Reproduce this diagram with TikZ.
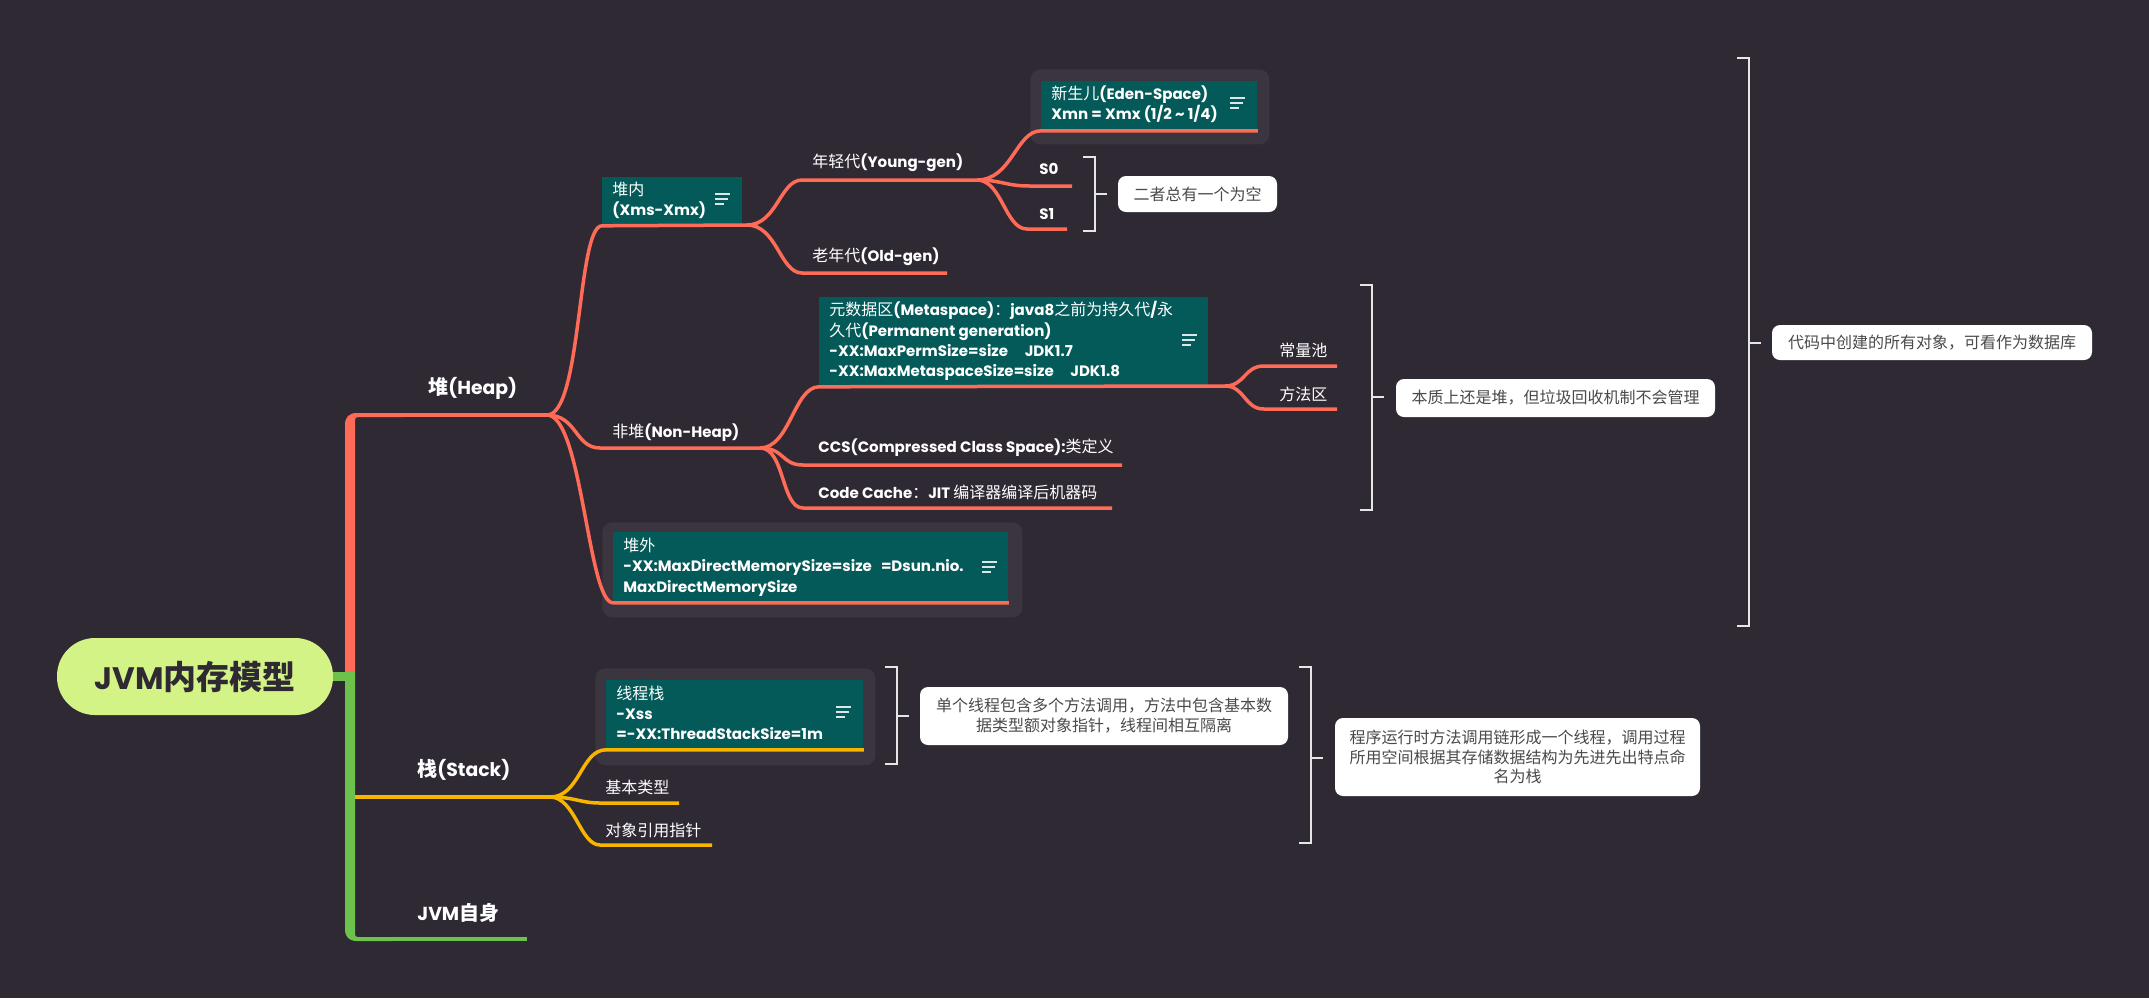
\documentclass[tikz,border=0pt]{standalone}
\usepackage{fontspec}
\setmainfont{Poppins}[Scale=0.94]
\newfontfamily\cjk{Noto Sans CJK SC}
\newcommand\zh[1]{{\cjk\mdseries #1}}
\newcommand\zhb[1]{{\cjk\bfseries #1}}
\usetikzlibrary{calc}
\definecolor{bgc}{HTML}{2F2934}
\definecolor{mmteal}{HTML}{035A59}
\definecolor{coral}{HTML}{FF6B57}
\definecolor{goldc}{HTML}{F7B500}
\definecolor{mmgreen}{HTML}{6CC24A}
\definecolor{rootc}{HTML}{D3F386}
\definecolor{panelc}{HTML}{3B3540}
\definecolor{calltext}{HTML}{4A4A4A}
\definecolor{brkc}{HTML}{E6E6E6}
\definecolor{iconc}{HTML}{D8E8E8}
\newcommand\menuicon[2]{\draw[iconc, line width=1pt] (#1,#2-5) -- ++(15,0) (#1,#2) -- ++(13,0) (#1,#2+5) -- ++(9,0);}
\newcommand\brkt[4]{\draw[brk] (#1-12,#2) -- (#1,#2) -- (#1,#3) -- (#1-12,#3); \draw[brk] (#1,#4) -- (#1+12,#4);}
\begin{document}
\begin{tikzpicture}[x=0.5pt,y=-0.5pt,
  root/.style={fill=rootc, rounded corners=19pt, minimum width=138pt, minimum height=38.5pt, inner sep=0pt, text=bgc, font=\fontsize{16.5}{18}\selectfont\bfseries},
  mainlbl/.style={anchor=west, inner sep=0pt, text=white, font=\fontsize{10}{12}\selectfont\bfseries},
  lbl/.style={anchor=west, inner sep=0pt, text=white, font=\fontsize{8}{10}\selectfont\bfseries},
  tb/.style={anchor=north west, fill=mmteal, inner sep=0pt},
  tt/.style={anchor=west, inner sep=0pt, text=white, align=left, font=\fontsize{8}{10.15}\selectfont\bfseries},
  pnl/.style={anchor=north west, fill=panelc, rounded corners=5pt, inner sep=0pt},
  call/.style={fill=white, rounded corners=4pt, text=calltext, inner sep=0pt, align=center, font=\fontsize{8}{10}\selectfont\cjk},
  brk/.style={draw=brkc, line width=1pt},
  rl/.style={draw=coral, line width=1.75pt},
  ol/.style={draw=goldc, line width=1.75pt},
  gl/.style={draw=mmgreen, line width=1.75pt}
]
\useasboundingbox (0,0) rectangle (2149,998);
\fill[bgc] (0,0) rectangle (2149,998);

% trunk
\fill[coral] (345,672) -- (345,425) .. controls (345,417) and (349,413) .. (357,413) -- (403,413) -- (403,417) -- (358,417) .. controls (356,417) and (355,418) .. (355,420) -- (355,672) -- cycle;
\fill[mmgreen] (345,672) -- (345,929) .. controls (345,937) and (349,941) .. (357,941) -- (392,941) -- (392,937) -- (358,937) .. controls (356,937) and (355,936) .. (355,934) -- (355,672) -- cycle;

\node[root] (root) at (195,676.5) {JVM\zhb{内存模型}};
\coordinate (trunkJ) at (350,676.5);
\draw[mmgreen, line width=4.5pt] (root.east) -- (trunkJ);

\node[mainlbl] (heapL) at (428,388) {\zhb{堆}(Heap)};
\node[mainlbl] (stackL) at (417,770) {\zhb{栈}(Stack)};
\node[mainlbl] (selfL) at (417,913) {JVM\zhb{自身}};

\coordinate (hA) at (400,415); \coordinate (fH) at (547,415);
\draw[rl] (hA) -- (fH);
\coordinate (sA) at (355,797); \coordinate (fS) at (550,797);
\draw[ol] (sA) -- (fS);
\coordinate (jA) at (390,939); \coordinate (jB) at (527,939);
\draw[gl] (jA) -- (jB);

% panels
\node[pnl, minimum width=119.5pt, minimum height=37.5pt] (edenP) at (1030,69) {};
\node[pnl, minimum width=210pt, minimum height=47.5pt] (extP) at (602,522) {};
\node[pnl, minimum width=140pt, minimum height=48.5pt] (tsP) at (595,668) {};

% boxes
\node[tb, minimum width=70pt, minimum height=24pt] (inner) at (602,177) {};
\node[tt] (innerT) at (612,200) {\zh{堆内}\\(Xms-Xmx)};
\menuicon{715}{199}

\node[tb, minimum width=108pt, minimum height=24.5pt] (eden) at (1041,81) {};
\node[tt] (edenT) at (1051,104) {\zh{新生儿}(Eden-Space)\\Xmn = Xmx (1/2 \textasciitilde{} 1/4)};
\menuicon{1230}{103}

\node[tb, minimum width=194.5pt, minimum height=44.5pt] (meta) at (819,297) {};
\node[tt] (metaT) at (829,341) {\zh{元数据区}(Metaspace)\zh{：}java8\zh{之前为持久代}/\zh{永}\\\zh{久代}(Permanent generation)\\-XX:MaxPermSize=size\hspace{1.1em}JDK1.7\\-XX:MaxMetaspaceSize=size\hspace{1.1em}JDK1.8};
\menuicon{1182}{340}

\node[tb, minimum width=197.5pt, minimum height=35pt] (ext) at (613,532) {};
\node[tt] (extT) at (623,567) {\zh{堆外}\\-XX:MaxDirectMemorySize=size\hspace{0.6em}=Dsun.nio.\\MaxDirectMemorySize};
\menuicon{982}{567}

\node[tb, minimum width=128.5pt, minimum height=34.5pt] (ts) at (606,680) {};
\node[tt] (tsT) at (616,713) {\zh{线程栈}\\-Xss\\=-XX:ThreadStackSize=1m};
\menuicon{836}{712}

% labels
\node[lbl] (young) at (812,163) {\zh{年轻代}(Young-gen)};
\node[lbl] (old) at (812,257) {\zh{老年代}(Old-gen)};
\node[lbl] (s0) at (1039,169) {S0};
\node[lbl] (s1) at (1039,214) {S1};
\node[lbl] (nonheap) at (612,433) {\zh{非堆}(Non-Heap)};
\node[lbl] (cpool) at (1279,350) {\zh{常量池}};
\node[lbl] (marea) at (1279,394) {\zh{方法区}};
\node[lbl] (ccs) at (818,448) {CCS(Compressed Class Space):\zh{类定义}};
\node[lbl] (ccache) at (818,492) {Code Cache\zh{：}JIT \zh{编译器编译后机器码}};
\node[lbl] (basic) at (605,787) {\zh{基本类型}};
\node[lbl] (oref) at (605,830) {\zh{对象引用指针}};

% heap connectors
\coordinate (fI) at (747,225);
\draw[rl] (fH) .. controls +(35,0) and +(-25,0) .. (inner.south west) -- (fI);
\coordinate (yA) at (802,180); \coordinate (yB) at (977,180);
\draw[rl] (fI) .. controls +(30,0) and +(-22,0) .. (yA) -- (yB);
\coordinate (oA) at (802,273); \coordinate (oB) at (947,273);
\draw[rl] (fI) .. controls +(30,0) and +(-22,0) .. (oA) -- (oB);
\draw[rl] (yB) .. controls +(35,0) and +(-25,0) .. (eden.south west) -- (eden.south east);
\coordinate (s0A) at (1030,186); \coordinate (s0B) at (1072,186);
\draw[rl] (yB) .. controls +(25,0) and +(-25,0) .. (s0A) -- (s0B);
\coordinate (s1A) at (1027,229); \coordinate (s1B) at (1067,229);
\draw[rl] (yB) .. controls +(25,0) and +(-22,0) .. (s1A) -- (s1B);
\coordinate (nA) at (600,448); \coordinate (fN) at (760,448);
\draw[rl] (fH) .. controls +(30,0) and +(-25,0) .. (nA) -- (fN);
\coordinate (fM) at (1225,386);
\draw[rl] (fN) .. controls +(30,0) and +(-25,0) .. (meta.south west) -- (fM);
\coordinate (cpA) at (1264,366); \coordinate (cpB) at (1337,366);
\draw[rl] (fM) .. controls +(20,0) and +(-20,0) .. (cpA) -- (cpB);
\coordinate (maA) at (1264,409); \coordinate (maB) at (1337,409);
\draw[rl] (fM) .. controls +(20,0) and +(-20,0) .. (maA) -- (maB);
\coordinate (ccA) at (803,465); \coordinate (ccB) at (1122,465);
\draw[rl] (fN) .. controls +(25,0) and +(-22,0) .. (ccA) -- (ccB);
\coordinate (cdA) at (803,508); \coordinate (cdB) at (1112,508);
\draw[rl] (fN) .. controls +(25,0) and +(-22,0) .. (cdA) -- (cdB);
\draw[rl] (fH) .. controls +(35,0) and +(-25,0) .. (ext.south west) -- (ext.south east);

% stack connectors
\draw[ol] (fS) .. controls +(30,0) and +(-25,0) .. (ts.south west) -- (ts.south east);
\coordinate (bA) at (600,803); \coordinate (bB) at (679,803);
\draw[ol] (fS) .. controls +(25,0) and +(-20,0) .. (bA) -- (bB);
\coordinate (rA) at (600,845); \coordinate (rB) at (712,845);
\draw[ol] (fS) .. controls +(25,0) and +(-20,0) .. (rA) -- (rB);

% brackets
\brkt{1095}{157}{231}{194}
\brkt{1372}{285}{510}{397}
\brkt{1749}{58}{626}{343}
\brkt{897}{667}{764}{716}
\brkt{1311}{667}{843}{758}

% callouts
\node[call, minimum width=79.5pt, minimum height=18pt] (c1) at (1197.5,194) {二者总有一个为空};
\node[call, minimum width=159.5pt, minimum height=19pt] (c2) at (1555.5,398) {本质上还是堆，但垃圾回收机制不会管理};
\node[call, minimum width=160pt, minimum height=17.5pt] (c3) at (1932,342.5) {代码中创建的所有对象，可看作为数据库};
\node[call, minimum width=184pt, minimum height=29pt] (c4) at (1104,716) {单个线程包含多个方法调用，方法中包含基本数\\据类型额对象指针，线程间相互隔离};
\node[call, minimum width=182.5pt, minimum height=39pt, font=\fontsize{8}{9.6}\selectfont\cjk] (c5) at (1517.5,757) {程序运行时方法调用链形成一个线程，调用过程\\所用空间根据其存储数据结构为先进先出特点命\\名为栈};
\end{tikzpicture}
\end{document}
